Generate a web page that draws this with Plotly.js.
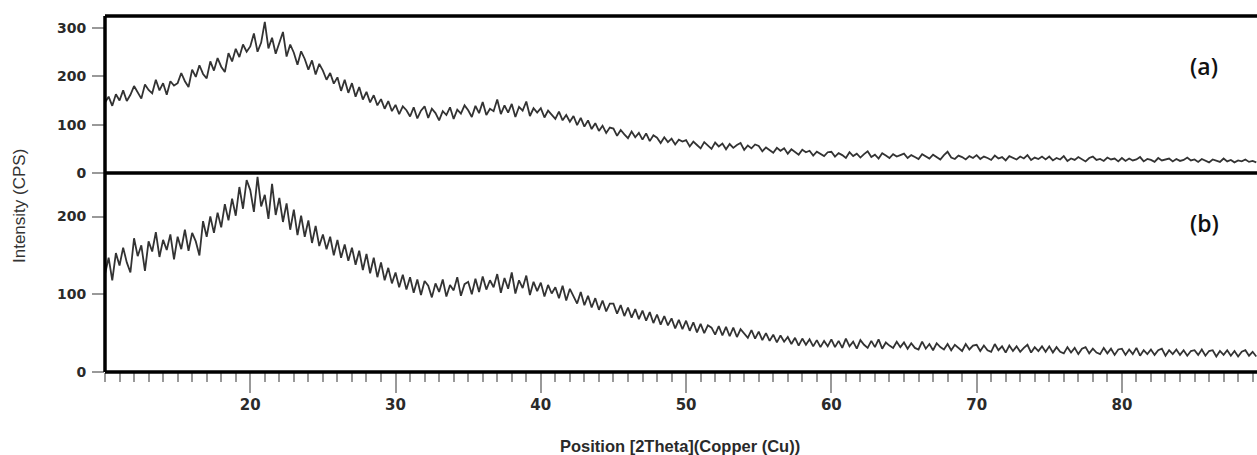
<!DOCTYPE html>
<html>
<head>
<meta charset="utf-8">
<script src="https://cdn.plot.ly/plotly-3.0.1.min.js"></script>
<style>html,body{margin:0;padding:0;background:#fff;}#chart{width:1257px;height:455px;}</style>
</head>
<body>
<div id="chart"></div>
<script>
// 2Theta scan grid: start and step (degrees)
const twoThetaStart = 10;
const twoThetaStep = 0.25;

// Sample (a) intensities (CPS), one value per step
const intensityA = [
  146,158,139,163,150,171,149,162,180,166,154,183,172,165,193,171,186,162,190,181,
  186,207,190,178,214,199,223,205,196,231,212,238,220,209,248,231,257,240,266,251,
  262,289,251,270,313,258,280,247,268,292,241,266,249,224,252,236,214,233,204,226,
  212,193,207,185,198,170,193,166,186,158,178,152,168,146,161,140,153,133,149,128,
  141,122,138,130,117,136,113,129,138,114,133,124,109,128,120,136,112,131,123,140,
  130,116,139,124,147,120,133,128,152,122,140,125,143,116,137,129,148,118,134,125,
  134,115,129,121,112,127,109,120,106,118,99,114,96,109,91,103,87,98,83,94,
  92,77,89,80,72,86,74,83,69,82,66,78,73,62,74,64,71,59,69,65,
  68,55,65,58,51,64,57,50,63,55,61,49,60,52,58,62,48,57,51,59,
  56,45,53,47,42,52,46,51,40,49,44,38,48,43,46,36,44,40,35,43,
  44,34,41,37,31,43,35,40,32,39,45,33,38,30,41,36,31,39,34,37,
  40,31,37,33,29,39,34,30,38,33,28,37,44,32,29,36,33,28,35,31,
  37,29,34,31,27,36,30,33,26,35,31,28,34,30,37,27,32,29,34,28,
  34,26,31,28,35,25,30,27,33,29,24,31,34,27,29,25,32,28,30,24,
  31,25,30,26,28,33,24,29,27,23,31,26,28,30,24,29,25,27,32,26,
  28,23,29,25,22,28,26,23,30,24,27,22,26,24,28,23,25,22
];

// Sample (b) intensities (CPS), one value per step
const intensityB = [
  126,147,118,153,137,160,141,128,172,149,163,130,168,155,180,148,170,157,177,145,
  174,158,183,156,179,168,150,194,174,200,179,205,186,216,195,223,201,238,210,247,
  234,206,251,213,228,197,242,202,224,193,217,183,209,176,201,174,195,166,188,162,
  177,158,174,150,170,147,164,143,160,138,156,131,152,127,147,122,141,118,134,114,
  128,109,125,106,122,102,119,99,117,111,96,114,103,119,97,112,105,122,98,113,
  116,100,120,103,123,106,118,109,126,102,121,107,128,101,118,108,124,99,116,104,
  115,97,112,101,109,95,111,92,107,98,88,103,86,98,83,95,80,92,78,88,
  88,75,86,72,83,70,81,68,79,66,77,63,74,61,72,60,69,56,67,55,
  66,53,64,51,62,50,60,57,48,59,47,58,46,57,45,55,50,44,54,43,
  52,41,50,40,48,38,47,39,45,36,44,34,43,35,42,33,41,32,40,33,
  42,32,40,31,43,33,39,30,41,35,31,40,32,42,30,38,34,31,39,32,
  38,30,37,31,29,39,30,36,28,37,32,29,36,28,35,31,27,36,29,34,
  35,27,34,28,26,36,28,33,25,34,27,33,26,31,35,25,32,27,33,26,
  33,25,32,26,24,32,25,31,23,30,32,24,30,25,23,31,24,30,22,29,
  30,22,29,23,31,21,28,23,29,22,28,30,21,28,23,29,22,28,21,27,
  28,22,29,21,27,28,20,27,22,28,21,27,20,26,28,21,26,20
];

const xTickVals = [20, 30, 40, 50, 60, 70, 80];
const yTickValsA = [0, 100, 200, 300];
const yTickValsB = [0, 100, 200];
const panelLabels = ['(a)', '(b)'];
const xTitle = 'Position [2Theta](Copper (Cu))';
const yTitle = 'Intensity (CPS)';

const twoThetaA = intensityA.map((_, i) => twoThetaStart + i * twoThetaStep);
const twoThetaB = intensityB.map((_, i) => twoThetaStart + i * twoThetaStep);

const lineStyle = {color: '#333333', width: 1.8};

const traces = [
  {x: twoThetaA, y: intensityA, type: 'scatter', mode: 'lines', line: lineStyle, xaxis: 'x', yaxis: 'y', hoverinfo: 'skip'},
  {x: twoThetaB, y: intensityB, type: 'scatter', mode: 'lines', line: lineStyle, xaxis: 'x', yaxis: 'y2', hoverinfo: 'skip'}
];

const split = (372 - 173) / 356;
const yTickFont = {family: 'DejaVu Sans, sans-serif', size: 14, color: '#2a2a2a', weight: 'bold'};
const xTickFont = {family: 'DejaVu Sans, sans-serif', size: 15, color: '#2a2a2a', weight: 'bold'};

const layout = {
  width: 1257, height: 455,
  margin: {l: 105, r: 0, t: 16, b: 83},
  paper_bgcolor: '#fff', plot_bgcolor: '#fff',
  showlegend: false,
  xaxis: {
    anchor: 'y2', range: [10, 89.3], tickvals: xTickVals, ticktext: xTickVals.map(String),
    ticks: 'outside', ticklen: 20, tickwidth: 2, tickcolor: '#999',
    minor: {dtick: 1, tick0: 0, ticks: 'outside', ticklen: 9, tickwidth: 2, tickcolor: '#999', showgrid: false},
    showgrid: false, zeroline: false, showline: false, tickfont: xTickFont, ticklabelstandoff: -1
  },
  yaxis: {
    domain: [split, 1], range: [0, 325], tickvals: yTickValsA, ticktext: yTickValsA.map(String),
    ticks: 'outside', ticklen: 12, tickwidth: 2, tickcolor: '#999',
    showgrid: false, zeroline: false, showline: false, tickfont: yTickFont, ticklabelstandoff: 3
  },
  yaxis2: {
    domain: [0, split], range: [0, 256], tickvals: yTickValsB, ticktext: yTickValsB.map(String),
    ticks: 'outside', ticklen: 12, tickwidth: 2, tickcolor: '#999',
    showgrid: false, zeroline: false, showline: false, tickfont: yTickFont, ticklabelstandoff: 3
  },
  shapes: [
    {type: 'line', xref: 'paper', yref: 'paper', x0: 0, x1: 1.01, y0: 1, y1: 1, line: {color: '#000', width: 3.5}},
    {type: 'line', xref: 'paper', yref: 'paper', x0: 0, x1: 1.01, y0: split, y1: split, line: {color: '#000', width: 3.5}},
    {type: 'line', xref: 'paper', yref: 'paper', x0: 0, x1: 1.01, y0: 0, y1: 0, line: {color: '#000', width: 3.5}},
    {type: 'line', xref: 'paper', yref: 'paper', x0: 0, x1: 0, y0: 0, y1: 1, line: {color: '#000', width: 3.5}}
  ],
  annotations: [
    {text: panelLabels[0], xref: 'paper', yref: 'paper', x: (1204 - 105) / 1152, y: (372 - 66) / 356, showarrow: false,
     font: {family: 'Open Sans, sans-serif', size: 23, color: '#111', weight: 600}, xanchor: 'center', yanchor: 'middle'},
    {text: panelLabels[1], xref: 'paper', yref: 'paper', x: (1204 - 105) / 1152, y: (372 - 223) / 356, showarrow: false,
     font: {family: 'Open Sans, sans-serif', size: 23, color: '#111', weight: 600}, xanchor: 'center', yanchor: 'middle'},
    {text: yTitle, xref: 'paper', yref: 'paper', x: (19 - 105) / 1152, y: (372 - 206) / 356, textangle: -90, showarrow: false,
     font: {family: 'Liberation Sans, Arial, sans-serif', size: 17, color: '#333'}, xanchor: 'center', yanchor: 'middle'},
    {text: xTitle, xref: 'paper', yref: 'paper', x: (680 - 105) / 1152, y: (372 - 446) / 356, showarrow: false,
     font: {family: 'Liberation Sans, Arial, sans-serif', size: 16.5, color: '#2a2a2a', weight: 'bold'}, xanchor: 'center', yanchor: 'middle'}
  ]
};

Plotly.newPlot('chart', traces, layout, {displayModeBar: false, staticPlot: true});
</script>
</body>
</html>
